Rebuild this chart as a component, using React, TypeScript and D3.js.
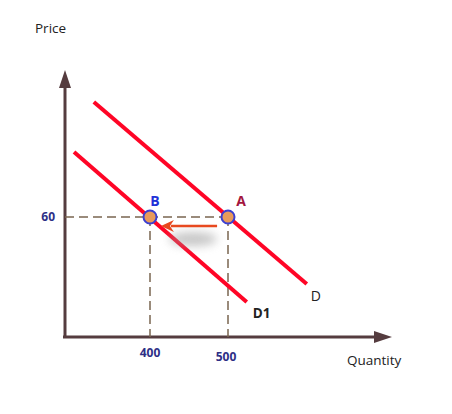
import React from "react";
import * as d3 from "d3";

const pointLabels = ["B", "A"];
const pointQuantities = [400, 500];
const equilibriumPrice = 60;
const curveNames = ["D", "D1"];
const curveD = [
  { q: 328, p: 117.5 },
  { q: 601, p: 26.5 },
];
const curveD1 = [
  { q: 302.6, p: 92.5 },
  { q: 524, p: 17.5 },
];
const arrowShift = [486, 414];

const W = 452;
const H = 414;

export default function App() {
  const x = d3.scaleLinear().domain([400, 500]).range([150, 228]);
  const y = d3.scaleLinear().domain([0, 60]).range([337, 217]);
  const line = d3
    .line<{ q: number; p: number }>()
    .x((d) => x(d.q))
    .y((d) => y(d.p));
  const x0 = 65;
  const y0 = 337;
  const font = "'Open Sans', 'DejaVu Sans', sans-serif";
  const navy = "#2e2f86";
  const yP = y(equilibriumPrice);
  return (
    <svg width={W} height={H} style={{ position: "absolute", left: 0, top: 0 }}>
      <defs>
        <filter id="sh" x="-50%" y="-200%" width="200%" height="500%">
          <feGaussianBlur stdDeviation="5" />
        </filter>
      </defs>
      <rect width={W} height={H} fill="#fff" />
      {/* axes */}
      <line x1={x0} y1={y0} x2={x0} y2={86} stroke="#553c3f" strokeWidth={3} />
      <path d={`M${x0},70 L${x0 - 6},88 L${x0 + 6},88 Z`} fill="#553c3f" />
      <line x1={x0 - 2} y1={y0} x2={378} y2={y0} stroke="#553c3f" strokeWidth={3} />
      <path d={`M392,${y0} L374,${y0 - 6} L374,${y0 + 6} Z`} fill="#553c3f" />
      {/* dashed guides */}
      <line x1={x0} y1={yP} x2={x(500)} y2={yP} stroke="#7a6650" strokeWidth={1.5} strokeDasharray="9,5" />
      {pointQuantities.map((q) => (
        <line key={q} x1={x(q)} y1={yP} x2={x(q)} y2={y0} stroke="#7a6650" strokeWidth={1.5} strokeDasharray="9,5" />
      ))}
      {/* curves */}
      <path d={line(curveD) || ""} stroke="#ff0526" strokeWidth={4} fill="none" />
      <path d={line(curveD1) || ""} stroke="#ff0526" strokeWidth={4} fill="none" />
      {/* shift arrow with shadow */}
      <ellipse cx={x(450) + 4} cy={yP + 22} rx={24} ry={7} fill="#999" opacity={0.55} filter="url(#sh)" />
      <line x1={x(arrowShift[0])} y1={yP + 9} x2={x(arrowShift[1]) + 10} y2={yP + 9} stroke="#e8491f" strokeWidth={2.5} />
      <path
        d={`M${x(arrowShift[1])},${yP + 9} L${x(arrowShift[1]) + 13},${yP + 3} L${x(arrowShift[1]) + 9},${yP + 9} L${x(arrowShift[1]) + 13},${yP + 15} Z`}
        fill="#e8491f"
      />
      {/* points */}
      {pointQuantities.map((q) => (
        <circle key={q} cx={x(q)} cy={yP} r={6.5} fill="#e89a5a" stroke="#3b3fd0" strokeWidth={2} />
      ))}
      <text x={x(400) + 5} y={yP - 11} textAnchor="middle" fontFamily={font} fontWeight="bold" fontSize={14} fill="#2231d8">
        {pointLabels[0]}
      </text>
      <text x={x(500) + 13} y={yP - 11} textAnchor="middle" fontFamily={font} fontWeight="bold" fontSize={14} fill="#a3163f">
        {pointLabels[1]}
      </text>
      {/* curve labels */}
      <text x={x(curveD[1].q) + 4} y={y(curveD[1].p) + 17} fontFamily={font} fontSize={14} fill="#222">
        {curveNames[0]}
      </text>
      <text x={x(curveD1[1].q) + 6} y={y(curveD1[1].p) + 16} fontFamily={font} fontWeight="bold" fontSize={13.5} fill="#222">
        {curveNames[1]}
      </text>
      {/* tick labels */}
      <text x={55} y={yP + 4} textAnchor="end" fontFamily={font} fontWeight="bold" fontSize={12} fill={navy}>
        {equilibriumPrice}
      </text>
      <text x={x(400)} y={357} textAnchor="middle" fontFamily={font} fontWeight="bold" fontSize={12} fill={navy}>
        {pointQuantities[0]}
      </text>
      <text x={x(500) - 2} y={361} textAnchor="middle" fontFamily={font} fontWeight="bold" fontSize={12} fill={navy}>
        {pointQuantities[1]}
      </text>
      {/* axis titles */}
      <text x={35} y={33} fontFamily={font} fontSize={13.5} fill="#222">Price</text>
      <text x={347} y={365} fontFamily={font} fontSize={13.5} fill="#222">Quantity</text>
    </svg>
  );
}
